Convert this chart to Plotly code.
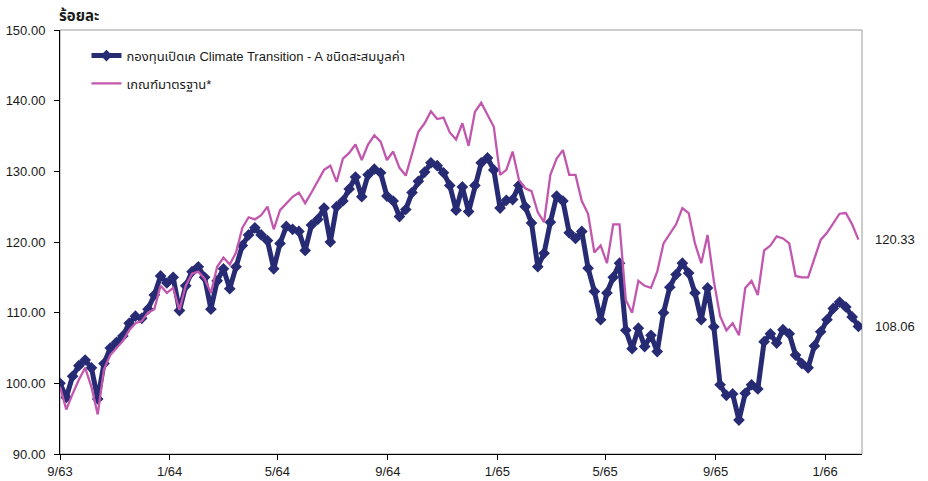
import pandas as pd
import plotly.graph_objects as go

# ---------------- data ----------------
start_date = "2020-09-01"          # 9/63 (Thai Buddhist year 2563)
end_axis_date = "2023-02-11"
fund_name = "กองทุนเปิดเค Climate Transition - A ชนิดสะสมมูลค่า"
bench_name = "เกณฑ์มาตรฐาน*"
y_title = "ร้อยละ"

fund_values = [
    100, 98, 101, 102.5, 103.3, 102.2, 97.8, 102.8, 105, 105.8,
    106.7, 108.5, 109.5, 109.2, 110.5, 112.5, 115.2, 114.2, 115, 110.3,
    113.8, 115.8, 116.5, 115, 110.5, 114.5, 116.2, 113.4, 116.5, 119.5,
    121, 122, 121, 120.2, 116.2, 119.8, 122.2, 121.8, 121.5, 118.8,
    122.4, 123.2, 124.8, 120, 125, 125.8, 127.5, 129.2, 126.4, 129.5,
    130.3, 129.8, 126.5, 125.8, 123.6, 124.6, 127, 128.6, 129.9, 131.2,
    130.8, 129.8, 128, 124.5, 127.8, 124.3, 128, 131.2, 131.9, 130.2,
    124.8, 125.9, 126, 128, 125, 122.7, 116.5, 118.4, 122.8, 126.5,
    125.8, 121.3, 120.5, 121.5, 116.3, 113, 109, 112.8, 115, 117,
    107.5, 104.9, 107.8, 105.2, 106.8, 104.5, 110, 113.6, 115.4, 117,
    115.6, 112.8, 109, 113.5, 108, 99.8, 98.3, 98.5, 94.8, 98.6,
    99.8, 99.2, 105.9, 107, 105.7, 107.6, 107, 104, 102.8, 102.2,
    105.3, 107.3, 109, 110.6, 111.5, 110.8, 109.4, 108.06,
]

bench_values = [
    99.5, 96.3, 98.5, 100.5, 102.2, 99.5, 95.6, 102, 104, 105,
    106, 107.5, 108.5, 108.8, 110, 110.5, 113.8, 112.8, 113.5, 110.4,
    113.8, 115.5, 115.8, 114.8, 112.8, 116.5, 117.8, 116.8, 118.5, 122,
    123.5, 123.2, 123.8, 125, 121.8, 124.5, 125.5, 126.4, 127, 125.5,
    127, 128.5, 130.2, 130.8, 128.5, 131.8, 132.6, 133.8, 131.6, 133.8,
    135.1, 134.2, 131.6, 132.8, 130.5, 129.4, 132.5, 135.6, 136.8, 138.5,
    137.4, 137.6, 135.5, 134.5, 136.8, 133.6, 138.4, 139.7, 138, 136.3,
    129.5, 130.2, 132.8, 128.8, 127.6, 127.2, 124.2, 122.8, 129.5, 131.8,
    133, 129.5, 129.5, 125.8, 124, 118.5, 119.5, 117, 122.5, 122.5,
    111.8, 110, 114.5, 113.8, 113.5, 115.8, 119.8, 121.2, 122.5, 124.8,
    124.1, 119.8, 117, 121, 114.5, 109.5, 107.5, 108.5, 106.8, 113.5,
    114.5, 112.5, 118.8, 119.5, 120.8, 120.5, 119.8, 115.2, 115, 115,
    117.8, 120.3, 121.3, 122.7, 124, 124.1, 122.5, 120.33,
]

dates = pd.date_range(start_date, periods=len(fund_values), freq="7D")

tick_dates = ["2020-09-01", "2021-01-01", "2021-05-01", "2021-09-01",
              "2022-01-01", "2022-05-01", "2022-09-01", "2023-01-01"]
tick_labels = ["9/63", "1/64", "5/64", "9/64", "1/65", "5/65", "9/65", "1/66"]
y_ticks = [90, 100, 110, 120, 130, 140, 150]

fund_color = "#272B74"
bench_color = "#C257AE"
font_family = "Arial, 'Liberation Sans', 'Noto Sans Thai', 'Noto Sans', sans-serif"

# ---------------- figure ----------------
fig = go.Figure()
fig.add_trace(go.Scatter(
    x=dates, y=fund_values, name=fund_name, legendgroup="a",
    mode="lines+markers",
    line=dict(color=fund_color, width=5),
    marker=dict(symbol="diamond", size=9, color=fund_color, line=dict(width=0)),
))
fig.add_trace(go.Scatter(
    x=dates, y=bench_values, name=bench_name, legendgroup="b",
    mode="lines",
    line=dict(color=bench_color, width=2.3),
))

fig.update_layout(
    width=928, height=481,
    margin=dict(l=60, r=66, t=30, b=27, autoexpand=False),
    plot_bgcolor="white", paper_bgcolor="white",
    font=dict(family=font_family, size=13, color="#1a1a1a"),
    showlegend=True,
    legend=dict(x=0.033, y=0.975, xanchor="left", yanchor="top",
                bgcolor="rgba(0,0,0,0)", font=dict(size=13),
                traceorder="grouped", tracegroupgap=8),
    shapes=[dict(type="rect", xref="paper", yref="paper", x0=0, x1=1, y0=0, y1=1,
                 line=dict(color="#9a9a9a", width=1), layer="below")],
)

fig.update_xaxes(
    type="date", range=[start_date, end_axis_date],
    tickvals=tick_dates, ticktext=tick_labels,
    ticks="outside", ticklen=5, tickcolor="black",
    automargin=False,
    showline=True, linecolor="black", linewidth=1,
    showgrid=False, zeroline=False,
    tickfont=dict(size=13),
)
fig.update_yaxes(
    range=[90, 150], tickvals=y_ticks, tickformat=".2f",
    ticks="outside", ticklen=5, tickcolor="black",
    ticklabelstandoff=6, automargin=False,
    showline=True, linecolor="black", linewidth=1,
    showgrid=False, zeroline=False,
    tickfont=dict(size=13),
)

annotations = [
    dict(text="<b>" + y_title + "</b>", xref="paper", yref="paper",
         x=-0.004, y=1.035, xanchor="left", yanchor="middle",
         showarrow=False, font=dict(size=15, color="#1a1a1a")),
    dict(text=f"{bench_values[-1]:.2f}", xref="paper", yref="y",
         x=1, y=bench_values[-1], xanchor="left", yanchor="middle", xshift=11,
         showarrow=False, font=dict(size=13)),
    dict(text=f"{fund_values[-1]:.2f}", xref="paper", yref="y",
         x=1, y=fund_values[-1], xanchor="left", yanchor="middle", xshift=11,
         showarrow=False, font=dict(size=13)),
]
fig.update_layout(annotations=annotations)

# remove the browser's default 8px body margin so the figure fills the window
fig.write_html("out.html", config={"displayModeBar": False},
               post_script="document.body.style.margin='0';")
